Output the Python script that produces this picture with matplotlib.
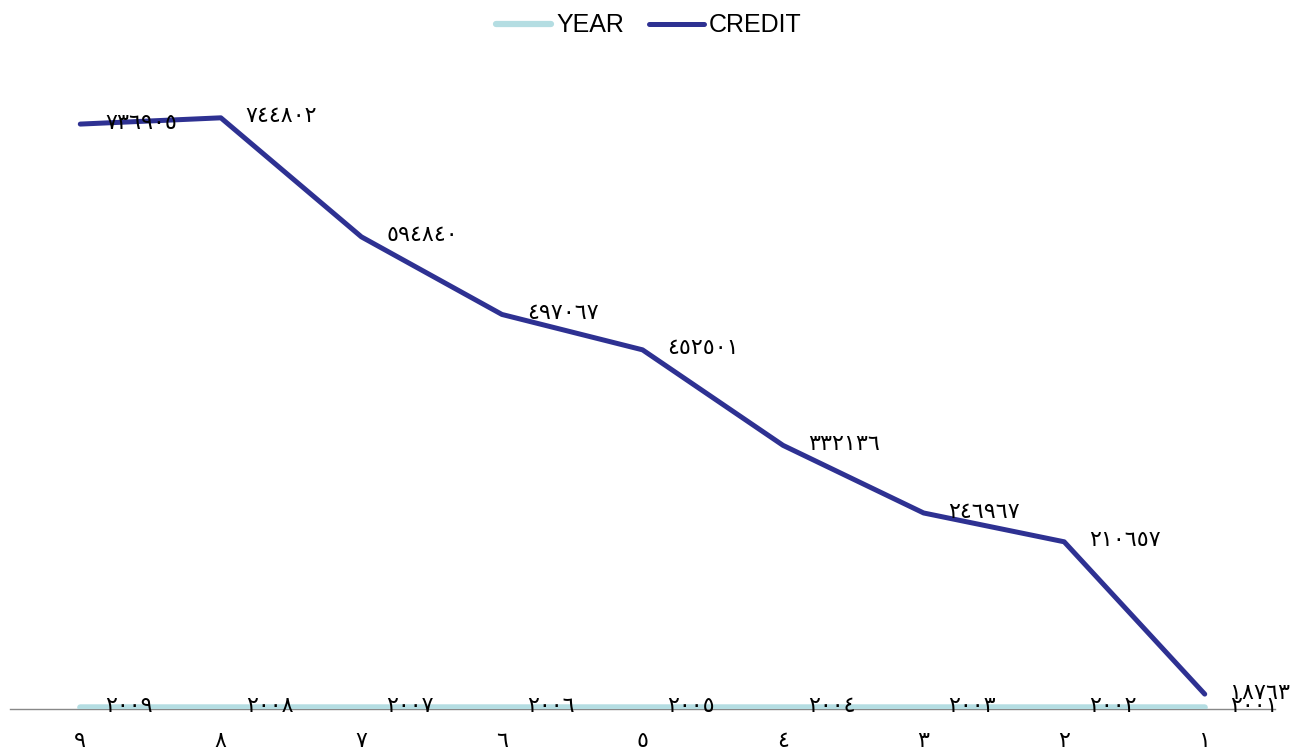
import matplotlib
matplotlib.use("Agg")
from matplotlib import pyplot as plt

# chart data
categories = ['٩', '٨', '٧', '٦', '٥', '٤', '٣', '٢', '١']
years = [2009, 2008, 2007, 2006, 2005, 2004, 2003, 2002, 2001]
credit = [736905, 744802, 594840, 497067, 452501, 332136, 246967, 210657, 18763]

AR_DIGITS = str.maketrans('0123456789', '٠١٢٣٤٥٦٧٨٩')


def ar(n):
    return str(n).translate(AR_DIGITS)


fig = plt.figure(figsize=(12.98, 7.56), dpi=100)
ax = fig.add_axes([10 / 1298, 47 / 756, 1265 / 1298, 635 / 756])

x = list(range(len(categories)))
ax.plot(x, years, color='#b4dde2', linewidth=4.5, solid_capstyle='round', label='YEAR', zorder=3)
ax.plot(x, credit, color='#2e3192', linewidth=3.6, solid_capstyle='round', label='CREDIT', zorder=4)

# data labels
lbl = dict(textcoords='offset points', ha='left', va='center', fontsize=16,
           family='DejaVu Sans', zorder=5)
for i in x:
    ax.annotate(ar(years[i]), (i, years[i]), xytext=(18, 1), **lbl)
    ax.annotate(ar(credit[i]), (i, credit[i]), xytext=(18, 1), **lbl)

ax.set_xlim(-0.5, len(categories) - 0.5)
ax.set_ylim(0, 800000)
ax.set_xticks(x)
ax.set_xticklabels(categories, fontsize=16, family='DejaVu Sans')
ax.tick_params(axis='x', length=0, pad=16)
ax.set_yticks([])
for side in ['top', 'right', 'left']:
    ax.spines[side].set_visible(False)
ax.spines['bottom'].set_color('#888888')
ax.spines['bottom'].set_linewidth(1)

fig.legend(loc='upper center', bbox_to_anchor=(0.5, 1.012), ncol=2, frameon=False,
           prop={'family': 'Liberation Sans', 'size': 18}, handlelength=2.2,
           handletextpad=0.2, columnspacing=1.0)

fig.savefig('out.png', dpi=100)
